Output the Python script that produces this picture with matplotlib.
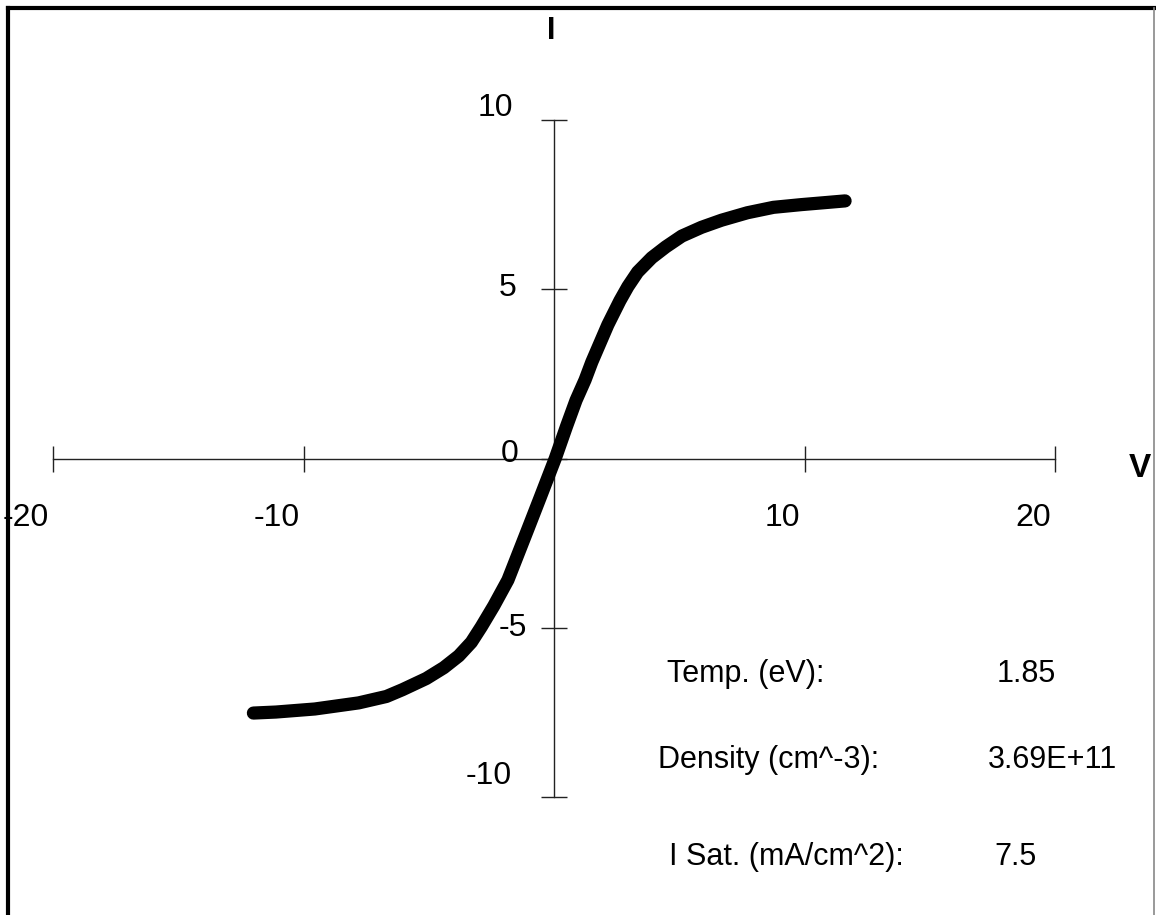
import numpy as np
import matplotlib
matplotlib.use("Agg")
import matplotlib.pyplot as plt
from matplotlib.lines import Line2D

plt.rcParams['font.family'] = ['Liberation Sans', 'DejaVu Sans']

# probe sweep
V = [-12.0, -11.1, -9.55, -7.8, -6.69, -6.05, -5.1, -4.4, -3.8, -3.3, -2.9,
     -2.4, -1.84, -1.05, -0.55, 0.05, 0.5, 0.88, 1.24, 1.51, 2.15, 2.63, 2.95,
     3.34, 3.9, 4.46, 5.1, 5.89, 6.69, 7.72, 8.76, 9.87, 10.83, 11.62]
I = [-7.52, -7.49, -7.40, -7.22, -7.03, -6.83, -6.50, -6.18, -5.83, -5.43,
     -4.97, -4.35, -3.59, -2.1, -1.15, 0.0, 0.95, 1.72, 2.32, 2.85, 3.95, 4.66,
     5.08, 5.51, 5.93, 6.25, 6.57, 6.83, 7.04, 7.26, 7.42, 7.50, 7.56, 7.61]

xticks = [-20, -10, 10, 20]
yticks = [10, 5, 0, -5, -10]
xticklabels = ['-20', '-10', '10', '20']
yticklabels = ['10', '5', '0', '-5', '-10']

fit_names = ['Temp. (eV):', 'Density (cm^-3):', 'I Sat. (mA/cm^2):']
fit_values = ['1.85', '3.69E+11', '7.5']

W, H = 1156, 915
fig = plt.figure(figsize=(W / 100, H / 100), dpi=100)

def px(x, y):
    return x / W, 1 - y / H

# axes box: x -20..20 spans px 53..1055, y -10..10 spans px 797..120
x0, y0 = px(53, 797)
x1, y1 = px(1055, 120)
ax = fig.add_axes([x0, y0, x1 - x0, y1 - y0])
ax.set_xlim(-20, 20)
ax.set_ylim(-10, 10)
ax.set_facecolor('none')

for s in ['top', 'right']:
    ax.spines[s].set_visible(False)
ax.spines['left'].set_position('zero')
ax.spines['bottom'].set_position('zero')
for s in ['left', 'bottom']:
    ax.spines[s].set_color('#222222')
    ax.spines[s].set_linewidth(1.0)

ax.set_xticks(xticks)
ax.set_yticks(yticks)
ax.tick_params(direction='inout', length=19, width=1.0, color='#222222',
               labelleft=False, labelbottom=False)

ax.plot(V, I, color='black', lw=9.5, solid_capstyle='round',
        solid_joinstyle='round', zorder=3)

# tick labels, placed like the original spreadsheet chart
for v, lab in zip(xticks, xticklabels):
    ax.annotate(lab, (v, 0), xytext=(-4, -68), textcoords='offset pixels',
                ha='right', va='baseline', fontsize=23)
ydy = [4, -7, -3, -8, 13]
ydx = [-41, -37, -36, -27, -42]
for v, lab, dx, dy in zip(yticks, yticklabels, ydx, ydy):
    ax.annotate(lab, (0, v), xytext=(dx, dy), textcoords='offset pixels',
                ha='right', va='baseline', fontsize=23)

# axis names
fig.text(*px(551, 39), 'I', ha='center', va='baseline', fontsize=22,
         fontweight='bold')
fig.text(*px(1140, 477), 'V', ha='center', va='baseline', fontsize=24,
         fontweight='bold')

# fit results
name_x = [667, 658, 669]
val_x = [997, 988, 994]
base_y = [682, 768, 865]
for n, v, nx, vx, by in zip(fit_names, fit_values, name_x, val_x, base_y):
    fig.text(*px(nx, by), n, ha='left', va='baseline', fontsize=22)
    fig.text(*px(vx, by), v, ha='left', va='baseline', fontsize=22)

# page frame
fig.add_artist(Line2D([8 / W, 8 / W], [0, 1 - 8 / H], transform=fig.transFigure,
                      color='black', lw=3))
fig.add_artist(Line2D([8 / W, 1], [1 - 8 / H, 1 - 8 / H], transform=fig.transFigure,
                      color='black', lw=3))
fig.add_artist(Line2D([1154 / W, 1154 / W], [0, 1 - 8 / H], transform=fig.transFigure,
                      color='#888888', lw=1.2))

fig.savefig('out.png', dpi=100)
